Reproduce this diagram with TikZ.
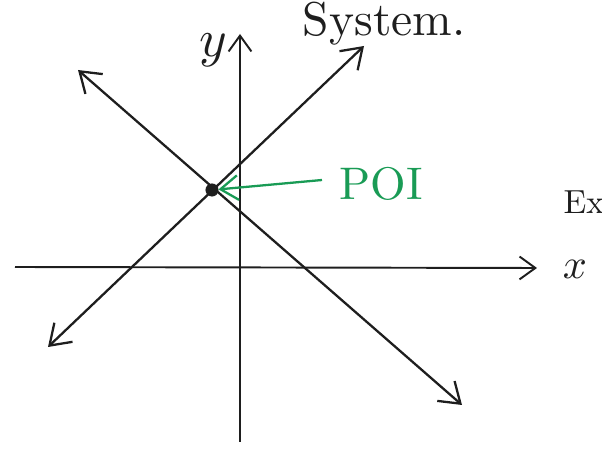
\documentclass[tikz,border=0pt]{standalone}
\usepackage{amsmath}
\usetikzlibrary{arrows.meta}
\definecolor{pen-dark}{RGB}{30,30,30}
\definecolor{pen-green}{RGB}{25,155,85}

\tikzset{
    axisline/.style={pen-dark, line width=1.1pt, -{Straight Barb[length=9pt,width=13pt,line width=1.1pt]}},
    graphline/.style={pen-dark, line width=1.3pt, {Straight Barb[length=11pt,width=15pt,line width=1.3pt]}-{Straight Barb[length=11pt,width=15pt,line width=1.3pt]}},
    handtext/.style={pen-dark, inner sep=0pt}
}

\begin{document}
\begin{tikzpicture}[x=0.02cm, y=-0.02cm]
    \useasboundingbox (0,0) rectangle (602,455);
    \clip (0,0) rectangle (602,455);

    % axes
    \coordinate (xl) at (15,267);
    \coordinate (xr) at (537,268);
    \coordinate (yb) at (240,442);
    \coordinate (yt) at (240,34);
    \draw[axisline] (xl) -- (xr);
    \draw[axisline] (yb) -- (yt);
    \node[handtext, scale=2.4] (xlab) at (575,269) {$x$};
    \node[handtext, scale=3] (ylab) at (213,50) {$y$};

    % the two lines of the system
    \node[circle, fill=pen-dark, draw=pen-dark, inner sep=0pt, minimum size=7pt] (poi) at (212,190) {};
    \coordinate (a1) at (48,347);
    \coordinate (a2) at (364,46);
    \coordinate (b1) at (78,70);
    \coordinate (b2) at (462,405);
    \draw[graphline] (a1) -- (a2);
    \draw[graphline] (b1) -- (b2);

    % point of intersection
    \node[pen-green, inner sep=0pt, scale=2.6] (poilab) at (381,184) {POI};
    \coordinate (poiarr) at (322,180);
    \draw[pen-green, line width=1.3pt, -{Straight Barb[length=10pt,width=14pt,line width=1.3pt]}] (poiarr) -- (poi);

    \node[handtext, anchor=west, scale=2.7] (sys) at (302,24) {System.};
    \node[handtext, anchor=west, scale=1.9] (ex) at (563,202) {Ex};
\end{tikzpicture}
\end{document}
